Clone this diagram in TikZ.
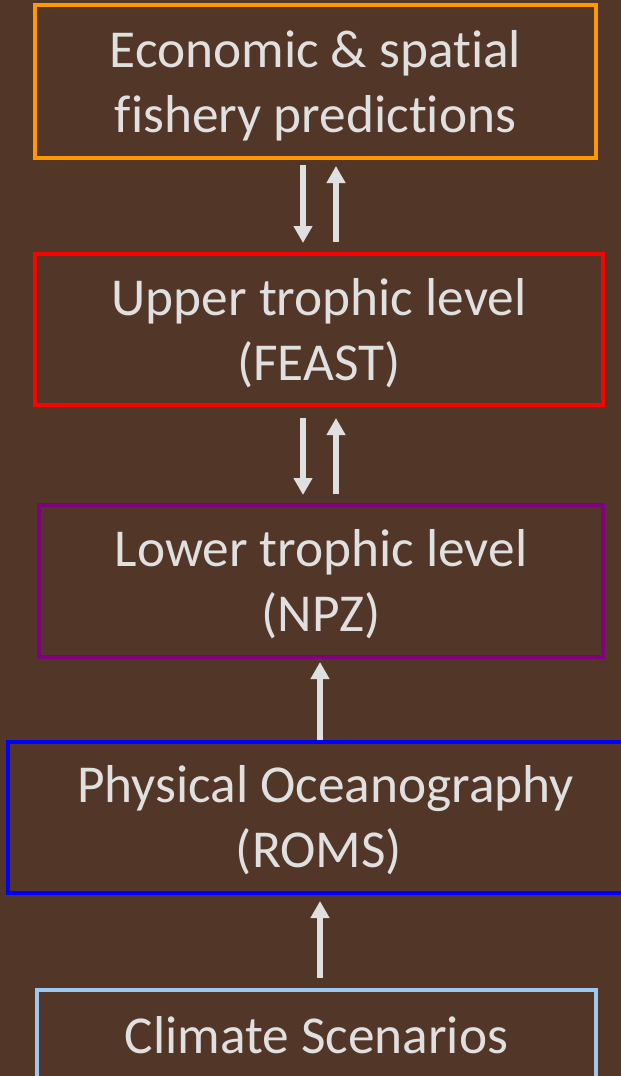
\documentclass[tikz,border=0pt]{standalone}
\usepackage{fontspec}
\setmainfont{Carlito}[Ligatures=NoCommon]
\usetikzlibrary{arrows.meta}
\definecolor{bgbrown}{RGB}{82,54,39}
\definecolor{txtgray}{RGB}{224,224,224}
\definecolor{econorange}{RGB}{255,153,0}
\definecolor{upperred}{RGB}{255,0,0}
\definecolor{lowerpurple}{RGB}{128,0,128}
\definecolor{physblue}{RGB}{0,0,255}
\definecolor{climblue}{RGB}{157,200,240}
\tikzset{
  x=0.75pt, y=-0.75pt,
  levelbox/.style={draw, line width=3pt, inner sep=0pt},
  leveltext/.style={inner sep=0pt, align=center, text=txtgray,
    font=\fontsize{40}{48.75}\selectfont},
  flow/.style={draw=txtgray, line width=4.5pt,
    -{Triangle[width=13.5pt,length=12.75pt]}}
}
\begin{document}
\begin{tikzpicture}
  \fill[bgbrown] (0,0) rectangle (621,1076);
  \useasboundingbox (0,0) rectangle (621,1076);

  % model levels, top to bottom
  \node[levelbox, draw=econorange, minimum width=561*0.75pt, minimum height=153*0.75pt]
    (econ) at (315.5,81.5) {};
  \node[leveltext] (econtext) at ([yshift=-3pt]econ.center) {Economic \& spatial\\fishery predictions};

  \node[levelbox, draw=upperred, minimum width=568*0.75pt, minimum height=151*0.75pt]
    (upper) at (319,329.5) {};
  \node[leveltext] (uppertext) at ([yshift=-2.5pt]upper.center) {Upper trophic level\\(FEAST)};

  \node[levelbox, draw=lowerpurple, minimum width=564*0.75pt, minimum height=152*0.75pt]
    (lower) at (321,581) {};
  \node[leveltext] (lowertext) at ([yshift=-2.5pt]lower.center) {Lower trophic level\\(NPZ)};

  \node[levelbox, draw=physblue, minimum width=622*0.75pt, minimum height=151*0.75pt]
    (phys) at (319,817.5) {};
  \node[leveltext] (phystext) at ([yshift=-2pt]phys.center) {\hspace*{10pt}Physical Oceanography\\(ROMS)};

  \node[levelbox, draw=climblue, line width=2.5pt, minimum width=559*0.75pt, minimum height=104*0.75pt]
    (clim) at (316.5,1042) {};
  \node[leveltext] (climtext) at (316.5,1035) {Climate Scenarios};

  % coupling arrows
  \coordinate (e1) at (303,165);  \coordinate (u1) at (303,243);
  \coordinate (e2) at (336,166);  \coordinate (u2) at (336,242);
  \draw[flow] (e1) -- (u1);
  \draw[flow] (u2) -- (e2);

  \coordinate (u3) at (303,418);  \coordinate (l1) at (303,495);
  \coordinate (u4) at (336,418);  \coordinate (l2) at (336,494);
  \draw[flow] (u3) -- (l1);
  \draw[flow] (l2) -- (u4);

  \coordinate (l3) at (320,662);  \coordinate (p1) at (320,740);
  \draw[flow] (p1) -- (l3);

  \coordinate (p2) at (320,901);  \coordinate (c1) at (320,978);
  \draw[flow] (c1) -- (p2);
\end{tikzpicture}
\end{document}
